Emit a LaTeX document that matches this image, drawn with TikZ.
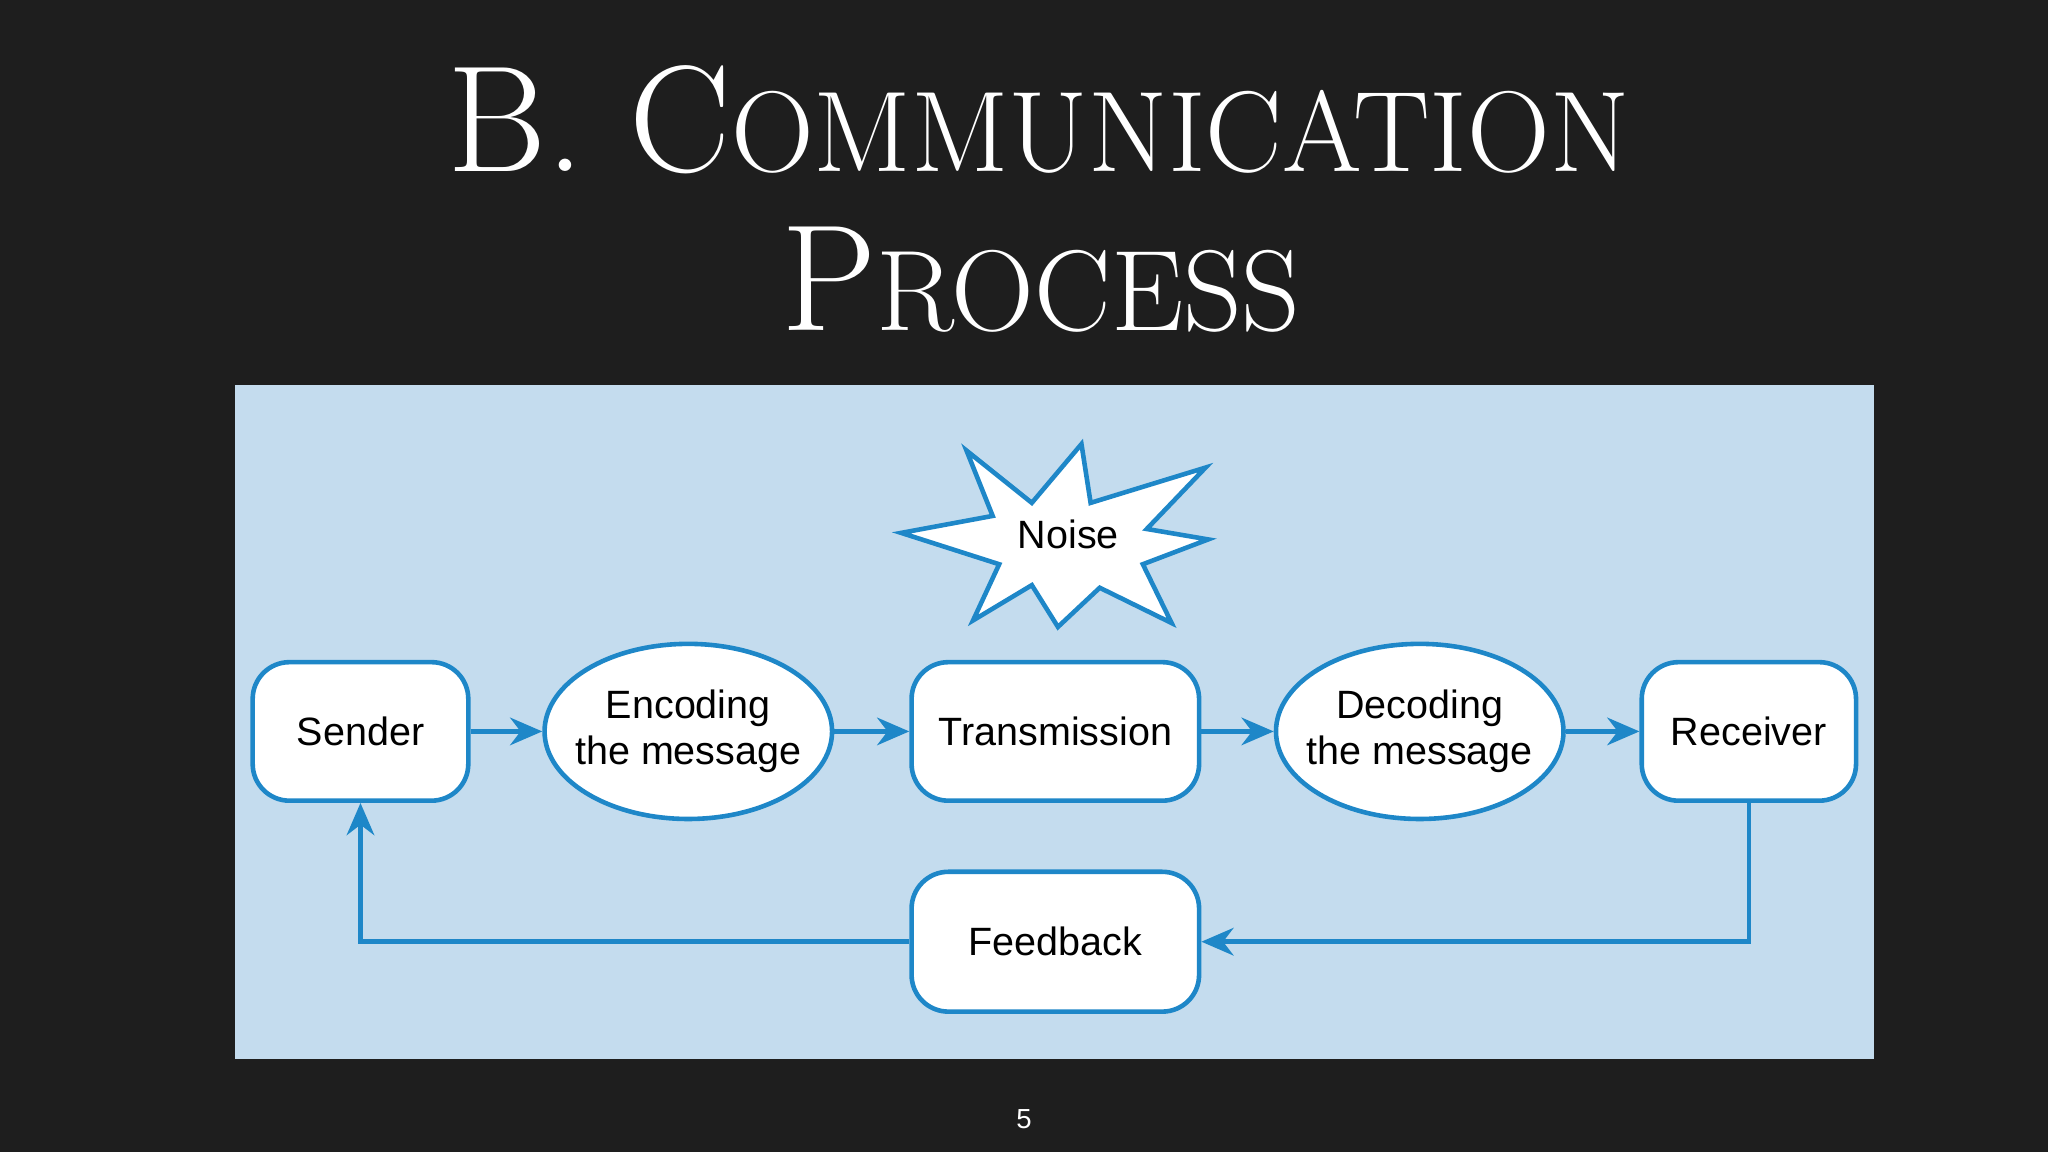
\documentclass[tikz,border=0pt]{standalone}
\usepackage{fontspec}
\usetikzlibrary{shapes.geometric,arrows.meta}
\setmainfont{Latin Modern Roman}
\newfontfamily\diag{Liberation Sans}
\newcommand{\fsc}[2]{#1{\fontsize{25}{29}\selectfont #2}}
\begin{document}
\begin{tikzpicture}[x=0.01cm,y=-0.01cm,
  bx/.style={draw=edgeblue,line width=1pt,fill=white,rounded corners=8pt,font=\diag\fontsize{8.6}{10}\selectfont,align=center,inner sep=0pt},
  el/.style={draw=edgeblue,line width=1pt,fill=white,ellipse,font=\diag\fontsize{8.6}{10}\selectfont,align=center,inner xsep=-0.2cm,inner ysep=0pt},
  arr/.style={draw=edgeblue,line width=1pt,-{Stealth[length=7pt,width=6pt]}}]
\definecolor{edgeblue}{RGB}{30,135,200}
\definecolor{panel}{RGB}{196,220,238}
\definecolor{bg}{RGB}{30,30,30}
\fill[bg] (0,0) rectangle (1568,882);
\useasboundingbox (0,0) rectangle (1568,882);
\node[text=white,font=\fontsize{33}{37}\selectfont] (t1) at (795,92) {B. \fsc{C}{OMMUNICATION}};
\node[text=white,font=\fontsize{33}{37}\selectfont] (t2) at (797,214) {\fsc{P}{ROCESS}};
\fill[panel] (180,295) rectangle (1435,811);
\node[bx,minimum width=1.65cm,minimum height=1.06cm] (s) at (276,560) {Sender};
\node[el,minimum width=2.2cm,minimum height=1.34cm] (e) at (527,560) {Encoding\\the message};
\node[bx,minimum width=2.2cm,minimum height=1.06cm] (t) at (808,560) {Transmission};
\node[el,minimum width=2.2cm,minimum height=1.34cm] (d) at (1087,560) {Decoding\\the message};
\node[bx,minimum width=1.64cm,minimum height=1.06cm] (r) at (1339,560) {Receiver};
\node[bx,minimum width=2.2cm,minimum height=1.07cm] (f) at (808,721) {Feedback};
\draw[draw=edgeblue,line width=1pt,fill=white,line join=miter]
 (740,345)--(790,385)--(828,340)--(835,385)--(923,358)--(878,405)--(925,413)--(875,432)--(897,477)--(842,450)--(810,480)--(790,448)--(745,475)--(765,432)--(690,408)--(760,395)--cycle;
\node[font=\diag\fontsize{8.6}{10}\selectfont] (n) at (818,409) {Noise};
\draw[arr] (s) -- (e);
\draw[arr] (e) -- (t);
\draw[arr] (t) -- (d);
\draw[arr] (d) -- (r);
\draw[arr] (r.south) |- (f.east);
\draw[arr] (f.west) -| (s.south);
\node[text=white,font=\diag\fontsize{6}{7}\selectfont] (p) at (784,857) {5};
\end{tikzpicture}
\end{document}
